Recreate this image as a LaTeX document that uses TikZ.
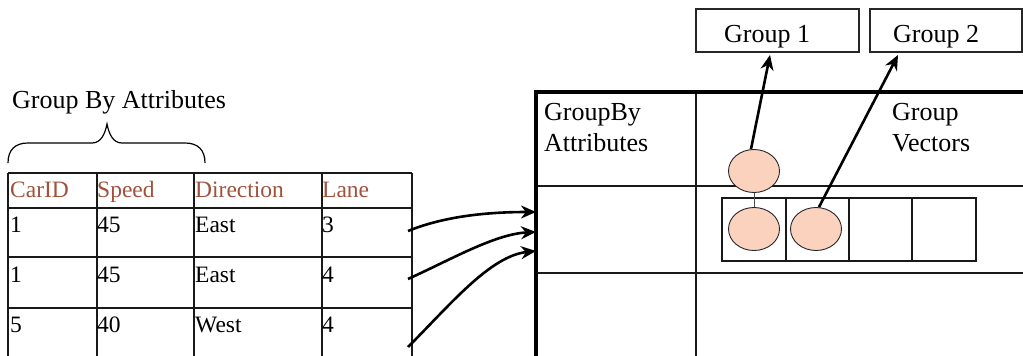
\documentclass[tikz,border=0pt]{standalone}
\usepackage{fontspec}
\setmainfont{Liberation Serif}
\usetikzlibrary{shapes.geometric,arrows.meta}
\definecolor{hdr}{RGB}{160,82,60}
\definecolor{blob}{RGB}{250,210,190}
\begin{document}
\begin{tikzpicture}[x=1pt,y=-1pt,
  grid/.style={line width=1.5pt,draw=black!90},
  thick border/.style={line width=4pt,draw=black},
  cell/.style={line width=1.2pt,draw=black!90},
  tabtxt/.style={anchor=base west,inner sep=0pt,font=\fontsize{23.5}{26}\selectfont},
  hdrtxt/.style={tabtxt,text=hdr},
  lbl/.style={anchor=base west,inner sep=0pt,font=\fontsize{26}{30}\selectfont},
  blobnode/.style={ellipse,draw=black!85,line width=0.9pt,fill=blob,minimum width=51pt,minimum height=43pt,inner sep=0pt},
  gbox/.style={draw=black!85,line width=1.2pt,inner sep=0pt},
  conn/.style={line width=2.6pt,-{Stealth[length=15pt,width=13pt]}},
  link/.style={line width=1pt,draw=black!70}
]
\useasboundingbox (0,0) rectangle (1023,356);

% label and brace
\node[lbl] (gba) at (12,108) {Group By Attributes};
\draw[line width=1.2pt] (8,163) .. controls (8,150) and (15,143) .. (28,143) -- (92,143) .. controls (101,143) and (105,134) .. (107,124) .. controls (109,134) and (113,143) .. (122,143) -- (185,143) .. controls (198,143) and (205,150) .. (205,163);

% left table
\foreach \y in {173,208,257,308} \draw[grid] (8,\y) -- (412,\y);
\foreach \x in {8,97,194,322,412} \draw[grid] (\x,173) -- (\x,356);
\node[hdrtxt] (h1) at (10,197) {CarID};
\node[hdrtxt] (h2) at (97,197) {Speed};
\node[hdrtxt] (h3) at (195,197) {Direction};
\node[hdrtxt] (h4) at (322,197) {Lane};
\node[tabtxt] (r11) at (10,232) {1};
\node[tabtxt] (r12) at (97,232) {45};
\node[tabtxt] (r13) at (195,232) {East};
\node[tabtxt] (r14) at (322,232) {3};
\node[tabtxt] (r21) at (10,282) {1};
\node[tabtxt] (r22) at (97,282) {45};
\node[tabtxt] (r23) at (195,282) {East};
\node[tabtxt] (r24) at (322,282) {4};
\node[tabtxt] (r31) at (10,332) {5};
\node[tabtxt] (r32) at (97,332) {40};
\node[tabtxt] (r33) at (195,332) {West};
\node[tabtxt] (r34) at (322,332) {4};

% right table
\draw[grid] (696,92) -- (696,356);
\draw[grid] (536,186) -- (1023,186);
\draw[grid] (536,273) -- (1023,273);
\draw[thick border] (1023,92) -- (536,92) -- (536,356);
\node[lbl] (gb1) at (544,120) {GroupBy};
\node[lbl] (gb2) at (544,151) {Attributes};
\node[lbl] (gv1) at (892,120) {Group};
\node[lbl] (gv2) at (892,151) {Vectors};

% vector cells
\draw[cell] (722,198) rectangle (976,261);
\foreach \x in {786,849,912} \draw[cell] (\x,198) -- (\x,261);

% blobs
\node[blobnode] (c1) at (754,171) {};
\node[blobnode] (c2) at (754,229) {};
\node[blobnode] (c3) at (816,229) {};
\draw[link] (c1.south) -- (c2.north);

% group boxes
\node[gbox,minimum width=163pt,minimum height=43pt] (g1) at (777.5,30.5) {};
\node[gbox,minimum width=152pt,minimum height=43pt] (g2) at (946,30.5) {};
\node[lbl] (g1t) at (724,42) {Group 1};
\node[lbl] (g2t) at (893,42) {Group 2};
\coordinate (t1) at (770,55);
\coordinate (t2) at (898,55);
\draw[conn] ([xshift=-3pt]c1.north) -- (t1);
\draw[conn] ([xshift=3pt]c3.north) -- (t2);

% curved arrows
\coordinate (s1) at (408,231);
\coordinate (s2) at (408,279);
\coordinate (s3) at (408,347);
\coordinate (e1) at (536,212);
\coordinate (e2) at (536,232);
\coordinate (e3) at (536,251);
\draw[conn] (s1) .. controls (440,218) and (480,212) .. (e1);
\draw[conn] (s2) .. controls (450,260) and (495,234) .. (e2);
\draw[conn] (s3) .. controls (450,305) and (490,256) .. (e3);
\end{tikzpicture}
\end{document}
